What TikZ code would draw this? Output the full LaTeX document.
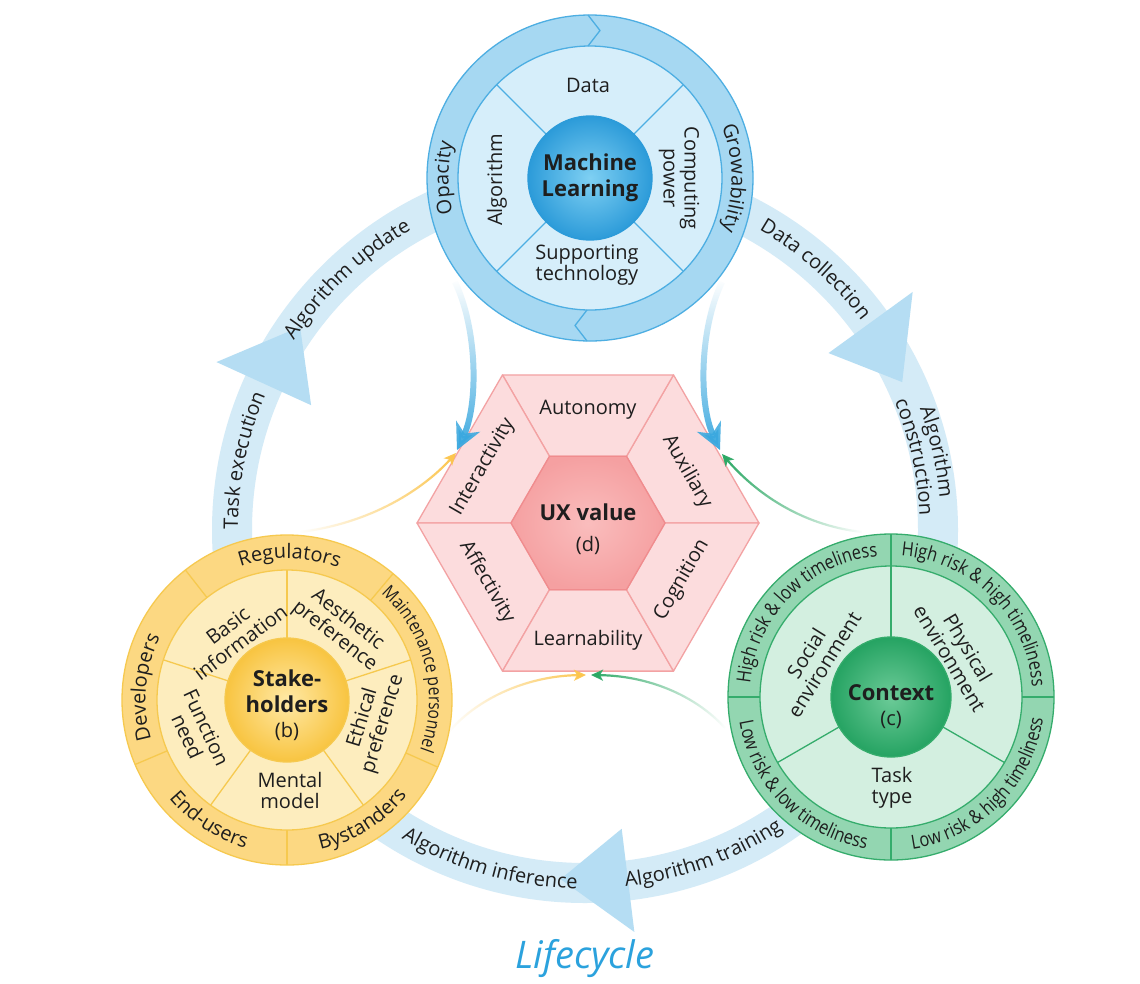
\documentclass[tikz,border=0pt]{standalone}
\usepackage{fontspec}
\setmainfont{Open Sans}
\newfontfamily\condfont[FakeStretch=0.84]{Open Sans}
\usetikzlibrary{calc,decorations.text,fadings,arrows.meta,shadings}

\definecolor{txt}{HTML}{1E1E1E}
\definecolor{ringblue}{HTML}{D4EBF7}
\definecolor{headblue}{HTML}{B5DDF3}
\definecolor{mlouter}{HTML}{A6D8F2}
\definecolor{mlinner}{HTML}{D6EEFA}
\definecolor{mlline}{HTML}{4DAEE2}
\definecolor{mlc1}{HTML}{7FD0F3}
\definecolor{mlc2}{HTML}{2C9BD9}
\definecolor{hexfill}{HTML}{FCDCDD}
\definecolor{hexline}{HTML}{F3A2A3}
\definecolor{hexc1}{HTML}{FABDBD}
\definecolor{hexc2}{HTML}{F5A0A1}
\definecolor{hexcline}{HTML}{F08C8E}
\definecolor{stouter}{HTML}{FCD882}
\definecolor{stinner}{HTML}{FDEDBE}
\definecolor{stline}{HTML}{F6C94F}
\definecolor{stc1}{HTML}{FFE9A6}
\definecolor{stc2}{HTML}{F8C440}
\definecolor{ctouter}{HTML}{93D6B1}
\definecolor{ctinner}{HTML}{D3EFE0}
\definecolor{ctline}{HTML}{35AC6C}
\definecolor{ctc1}{HTML}{6CCB98}
\definecolor{ctc2}{HTML}{25A362}
\definecolor{arrblue}{HTML}{3AA8DF}
\definecolor{arryel}{HTML}{FCC54D}
\definecolor{arrgrn}{HTML}{2BA864}
\definecolor{lifeblue}{HTML}{2BA2DD}

\newcommand\fin{\fontsize{20}{21}\selectfont}
\newcommand\fb{\fontsize{22}{26}\selectfont\bfseries}
\newcommand\fring{\color{txt}\fontsize{20}{20}\selectfont}
\newcommand\fctx{\color{txt}\condfont\fontsize{19.5}{20}\selectfont}
\newcommand\fmaint{\color{txt}\condfont\fontsize{18.5}{19}\selectfont}
% centre, radius, start angle, end angle, font, text
\newcommand\arctext[6]{\path[decorate,decoration={text along path,text align=center,text={|#5|#6}}] ($(#1)+(#3:#2)$) arc[start angle=#3,end angle=#4,radius=#2];}

\begin{document}
\begin{tikzpicture}[x=1pt,y=1pt,
  every node/.style={text=txt,inner sep=0pt},
  lab/.style={align=center,font=\fin},
  mlln/.style={draw=mlline,line width=1.3pt},
  stln/.style={draw=stline,line width=1.3pt},
  ctln/.style={draw=ctline,line width=1.3pt},
  hexseg/.style={fill=hexfill,draw=hexline,line width=1.3pt,line join=round},
  bigarrow/.style={draw=arrblue,line width=6pt,-{Stealth[length=26pt,width=26pt,inset=8pt]}},
  thinarrow/.style={line width=2.2pt,-{Stealth[length=12pt,width=11pt,inset=3pt]}}]
\useasboundingbox (0,0) rectangle (1140,-983);
\fill[white] (0,0) rectangle (1140,-983);

\coordinate (L) at (585,-530);
\coordinate (ML) at (590,-178);
\coordinate (H) at (588,-523);
\coordinate (S) at (287,-700);
\coordinate (C) at (891,-697);

% ---------- lifecycle ring ----------
\draw[ringblue,line width=40pt] (L) circle[radius=353];
\foreach \a in {155.5,36,-83}{
  \fill[headblue] ($(L)+(\a:405)$) -- ($(L)+(\a-11:350)$) -- ($(L)+(\a:301)$) -- cycle;
}
\arctext{L}{347}{186}{151}{\fring}{Task execution}
\arctext{L}{347}{152}{115}{\fring}{Algorithm update}
\arctext{L}{347}{67}{30}{\fring}{Data collection}
\arctext{L}{356}{28}{-3}{\fring}{Algorithm}
\arctext{L}{335}{29}{-4}{\fring}{construction}
\arctext{L}{359}{-126}{-86}{\fring}{Algorithm inference}
\arctext{L}{359}{-90}{-50}{\fring}{Algorithm training}
\node[anchor=base,text=lifeblue,font=\fontsize{38}{38}\selectfont\itshape] (life) at (585,-968) {Lifecycle};

% ---------- Machine learning ----------
\fill[mlouter] (ML) circle[radius=163];
\draw[mlln] (ML) circle[radius=163];
\fill[mlinner] (ML) circle[radius=132];
\draw[mlln] (ML) circle[radius=132];
\draw[mlln,line join=round] ($(ML)+(-2,163)$) -- ($(ML)+(10,147.5)$) -- ($(ML)+(-2,132)$);
\draw[mlln,line join=round] ($(ML)+(-3,-163)$) -- ($(ML)+(-15,-147.5)$) -- ($(ML)+(-3,-132)$);
\foreach \a in {45,135,225,315}{\draw[mlln] ($(ML)+(\a:62)$) -- ($(ML)+(\a:132)$);}
\shade[inner color=mlc1,outer color=mlc2] (ML) circle[radius=62];
\draw[draw=mlc2,line width=1.3pt] (ML) circle[radius=62];
\arctext{ML}{141.5}{215}{145}{\fring}{Opacity}
\arctext{ML}{141.5}{42}{-42}{\fring}{Growability}
\node[lab] (data) at ($(ML)+(-2,93)$) {Data};
\node[lab,rotate=90] (algo) at ($(ML)+(-93,-2)$) {Algorithm};
\node[lab,rotate=-90] (comp) at ($(ML)+(89,0)$) {Computing\\power};
\node[lab] (supp) at ($(ML)+(-3,-87)$) {Supporting\\technology};
\node[align=center,font=\fb] (mlt) at (ML) {Machine\\Learning};

% ---------- UX value hexagon ----------
\foreach \a in {0,60,...,300}{
  \path[hexseg] ($(H)+(\a:171)$) -- ($(H)+(\a+60:171)$) -- ($(H)+(\a+60:77)$) -- ($(H)+(\a:77)$) -- cycle;
}
\shade[inner color=hexc1,outer color=hexc2] ($(H)+(0:77)$) -- ($(H)+(60:77)$) -- ($(H)+(120:77)$) -- ($(H)+(180:77)$) -- ($(H)+(240:77)$) -- ($(H)+(300:77)$) -- cycle;
\draw[draw=hexcline,line width=1.3pt,line join=round] ($(H)+(0:77)$) -- ($(H)+(60:77)$) -- ($(H)+(120:77)$) -- ($(H)+(180:77)$) -- ($(H)+(240:77)$) -- ($(H)+(300:77)$) -- cycle;
\node[lab] (auto) at ($(H)+(0,113)$) {Autonomy};
\node[lab,rotate=-60] (aux) at ($(H)+(99,51)$) {Auxiliary};
\node[lab,rotate=60] (cog) at ($(H)+(94,-57)$) {Cognition};
\node[lab] (learn) at ($(H)+(0,-117)$) {Learnability};
\node[lab,rotate=-60] (aff) at ($(H)+(-101,-59)$) {Affectivity};
\node[lab,rotate=60] (inter) at ($(H)+(-105,56)$) {Interactivity};
\node[font=\fb] (ux) at ($(H)+(0,11)$) {UX value};
\node[font=\fin] (dd) at ($(H)+(0,-22)$) {(d)};

% ---------- Stakeholders ----------
\fill[stouter] (S) circle[radius=165];
\draw[stln] (S) circle[radius=165];
\fill[stinner] (S) circle[radius=130];
\draw[stln] (S) circle[radius=130];
\foreach \a in {50,128,203,270,336}{\draw[stln] ($(S)+(\a:130)$) -- ($(S)+(\a:165)$);}
\foreach \a in {18,90,162,234,306}{\draw[stln] ($(S)+(\a:62)$) -- ($(S)+(\a:130)$);}
\shade[inner color=stc1,outer color=stc2] (S) circle[radius=62];
\draw[stln] (S) circle[radius=62];
\arctext{S}{141.5}{128}{50}{\fring}{Regulators}
\arctext{S}{142}{54}{-26}{\fmaint}{Maintenance personnel}
\arctext{S}{153.5}{-92}{-24}{\fring}{Bystanders}
\arctext{S}{153.5}{-158}{-88}{\fring}{End-users}
\arctext{S}{141.5}{213}{137}{\fring}{Developers}
\node[lab,rotate=37] (basic) at ($(S)+(-53,66)$) {Basic\\information};
\node[lab,rotate=-38] (aest) at ($(S)+(54,72)$) {Aesthetic\\preference};
\node[lab,rotate=73] (eth) at ($(S)+(86,-21)$) {Ethical\\preference};
\node[lab] (ment) at ($(S)+(3,-90)$) {Mental\\model};
\node[lab,rotate=-65] (func) at ($(S)+(-90,-32)$) {Function\\need};
\node[align=center,font=\fb] (stk) at ($(S)+(0,9)$) {Stake-\\holders};
\node[font=\fin] (bb) at ($(S)+(0,-31)$) {(b)};

% ---------- Context ----------
\fill[ctouter] (C) circle[radius=163];
\draw[ctln] (C) circle[radius=163];
\fill[ctinner] (C) circle[radius=131];
\draw[ctln] (C) circle[radius=131];
\foreach \a in {0,90,180,270}{\draw[ctln] ($(C)+(\a:131)$) -- ($(C)+(\a:163)$);}
\foreach \a in {90,210,330}{\draw[ctln] ($(C)+(\a:60)$) -- ($(C)+(\a:131)$);}
\shade[inner color=ctc1,outer color=ctc2] (C) circle[radius=60];
\draw[ctln] (C) circle[radius=60];
\arctext{C}{141.5}{184}{86}{\fctx}{High risk {\&} low timeliness}
\arctext{C}{141.5}{94}{-4}{\fctx}{High risk {\&} high timeliness}
\arctext{C}{153.5}{176}{274}{\fctx}{Low risk {\&} low timeliness}
\arctext{C}{153.5}{266}{364}{\fctx}{Low risk {\&} high timeliness}
\node[lab,rotate=58] (soc) at ($(C)+(-76,38)$) {Social\\environment};
\node[lab,rotate=-59] (phys) at ($(C)+(68,44)$) {Physical\\environment};
\node[lab] (task) at ($(C)+(1,-91)$) {Task\\type};
\node[font=\fb] (ctx) at ($(C)+(0,4)$) {Context};
\node[font=\fin] (cc) at ($(C)+(0,-23)$) {(c)};

% ---------- influence arrows ----------
\coordinate (b1s) at (455,-282);
\coordinate (b1e) at (457,-450);
\coordinate (b2s) at (722,-282);
\coordinate (b2e) at (720,-450);
\draw[bigarrow,path fading=north] (b1s) .. controls (478,-330) and (478,-405) .. (b1e);
\draw[bigarrow,path fading=north] (b2s) .. controls (699,-330) and (699,-405) .. (b2e);

\coordinate (y1s) at (300,-532);
\coordinate (y1e) at (456,-453);
\coordinate (y2s) at (448,-733);
\coordinate (y2e) at (586,-675);
\draw[thinarrow,draw=arryel,path fading=west] (y1s) .. controls (380,-522) and (430,-482) .. (y1e);
\draw[thinarrow,draw=arryel,path fading=west] (y2s) .. controls (475,-700) and (525,-676) .. (y2e);

\coordinate (g1s) at (862,-532);
\coordinate (g1e) at (722,-454);
\coordinate (g2s) at (725,-728);
\coordinate (g2e) at (591,-675);
\draw[thinarrow,draw=arrgrn,path fading=east] (g1s) .. controls (800,-525) and (755,-492) .. (g1e);
\draw[thinarrow,draw=arrgrn,path fading=east] (g2s) .. controls (700,-700) and (655,-676) .. (g2e);
\end{tikzpicture}
\end{document}
